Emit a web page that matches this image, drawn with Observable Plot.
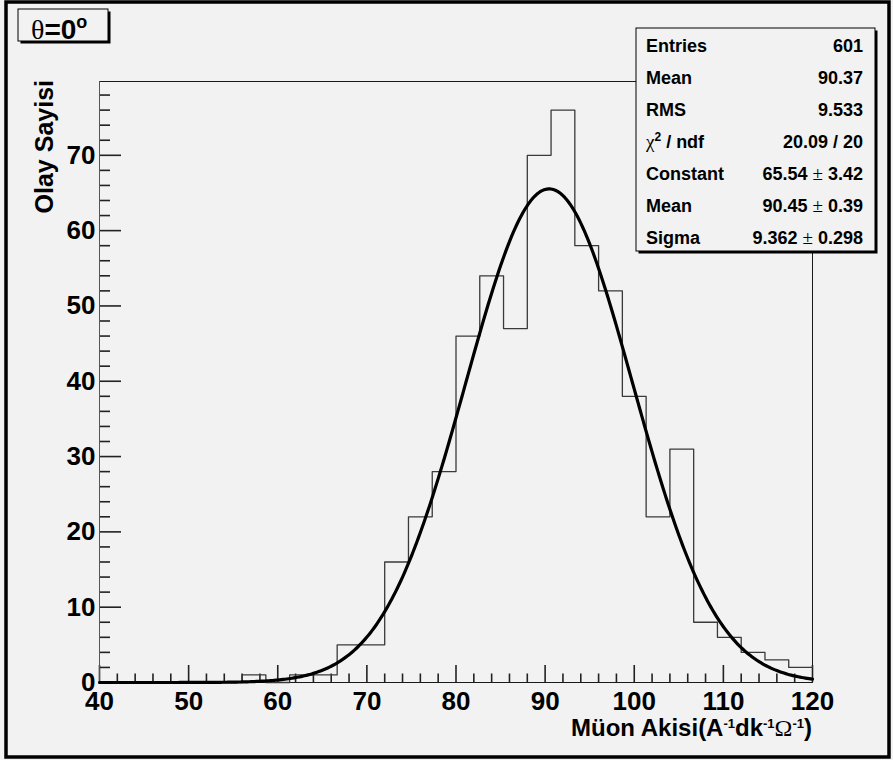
<!DOCTYPE html>
<html>
<head>
<meta charset="utf-8">
<script src="https://cdn.jsdelivr.net/npm/d3@7"></script>
<script src="https://cdn.jsdelivr.net/npm/@observablehq/plot@0.6"></script>
<style>
  html, body { margin: 0; padding: 0; background: #f2f2f2; }
  #chart { width: 893px; height: 760px; }
</style>
</head>
<body>
<div id="chart"></div>
<script>
// Muon flux histogram at θ = 0°: 30 equal-width bins from 40 to 120
const binLow = 40;
const binHigh = 120;
const counts = [0, 0, 0, 0, 0, 0, 1, 0, 1, 1,
                5, 5, 16, 22, 28, 46, 54, 47, 70, 76,
                58, 52, 38, 22, 31, 8, 6, 4, 3, 2];

// Statistics box values
const entries = 601;
const histMean = 90.37;
const histRms = 9.533;
const chi2 = 20.09;
const ndf = 20;

// Gaussian fit parameters and their errors
const fitConstant = 65.54, fitConstantErr = 3.42;
const fitMean = 90.45, fitMeanErr = 0.39;
const fitSigma = 9.362, fitSigmaErr = 0.298;

// Axis ticks
const xTicks = [40, 50, 60, 70, 80, 90, 100, 110, 120];
const yTicks = [0, 10, 20, 30, 40, 50, 60, 70];
const xMinorStep = 2;
const yMinorStep = 2;
const yMax = 79.8;

const W = 893, H = 760;
const mL = 99, mR = 81, mT = 81, mB = 78;
const plotW = W - mL - mR, plotH = H - mT - mB;

// Histogram outline as steps through each bin's lower edge
const nBins = counts.length;
const binW = (binHigh - binLow) / nBins;
const steps = counts.map((c, i) => ({x: binLow + i * binW, y: c}));
steps.push({x: binHigh, y: counts[nBins - 1]});

// Fitted Gaussian evaluated across the axis range
const fitCurve = d3.range(binLow, binHigh + 1e-9, 0.2).map(x => ({
  x, y: fitConstant * Math.exp(-0.5 * ((x - fitMean) / fitSigma) ** 2)
}));

const xMinor = d3.range(binLow, binHigh + 1e-9, xMinorStep).filter(v => v % 10 !== 0);
const yMinor = d3.range(0, yMax, yMinorStep).filter(v => v % 10 !== 0);

const tickStyle = {stroke: "#222", strokeWidth: 1.6};

const chart = Plot.plot({
  width: W,
  height: H,
  marginLeft: mL,
  marginRight: mR,
  marginTop: mT,
  marginBottom: mB,
  style: {
    background: "#f2f2f2",
    fontFamily: "'Liberation Sans', Arial, sans-serif",
    fontWeight: "bold",
    fontSize: "26px"
  },
  x: {domain: [binLow, binHigh]},
  y: {domain: [0, yMax]},
  marks: [
    Plot.frame({stroke: "#1a1a1a"}),
    // inward-pointing tick marks along the left and bottom axes
    Plot.ruleY(yTicks, {y: d => d, insetRight: plotW - 22, ...tickStyle}),
    Plot.ruleY(yMinor, {y: d => d, insetRight: plotW - 11, ...tickStyle}),
    Plot.ruleX(xTicks, {x: d => d, insetTop: plotH - 17, ...tickStyle}),
    Plot.ruleX(xMinor, {x: d => d, insetTop: plotH - 8.5, ...tickStyle}),
    Plot.ruleX([binLow], {stroke: "#555"}),
    Plot.line(steps, {x: "x", y: "y", curve: "step-after", stroke: "#3a3a3a", strokeWidth: 1.3}),
    Plot.line(fitCurve, {x: "x", y: "y", stroke: "#000", strokeWidth: 3.2}),
    Plot.axisX({ticks: xTicks, tickSize: 0, tickPadding: 9.5, label: null, tickFormat: d => String(d), fill: "#000"}),
    Plot.axisY({ticks: yTicks, tickSize: 0, tickPadding: 4, label: null, tickFormat: d => String(d), fill: "#000"})
  ]
});
document.getElementById("chart").append(chart);

const svg = d3.select(chart);
const sans = "'Liberation Sans', Arial, sans-serif";
const serif = "'Liberation Serif', 'Times New Roman', serif";

// Canvas border
svg.append("rect")
  .attr("x", 6).attr("y", 2).attr("width", 883).attr("height", 755)
  .attr("fill", "none").attr("stroke", "#000").attr("stroke-width", 3.5);

// Box with a drop shadow
function shadowBox(x, y, w, h) {
  svg.append("rect").attr("x", x + 2.5).attr("y", y + 2.5).attr("width", w).attr("height", h)
    .attr("fill", "#000");
  svg.append("rect").attr("x", x).attr("y", y).attr("width", w).attr("height", h)
    .attr("fill", "#f2f2f2").attr("stroke", "#000").attr("stroke-width", 1);
}

// Title
shadowBox(18, 9, 90, 32);
const title = svg.append("text").attr("x", 31).attr("y", 38.5).attr("text-anchor", "start")
  .attr("font-family", sans).attr("font-size", 28).attr("fill", "#000");
title.append("tspan").attr("font-family", serif).attr("font-weight", "normal").text("θ");
title.append("tspan").attr("font-weight", "bold").text("=0");
title.append("tspan").attr("font-weight", "bold").attr("font-size", 18).attr("dy", -11).text("o");

// Statistics box
shadowBox(636, 28, 239, 223);
const fmt = (v, d) => v.toFixed(d);
const statRows = [
  {name: [["Entries"]], value: [[String(entries)]]},
  {name: [["Mean"]], value: [[fmt(histMean, 2)]]},
  {name: [["RMS"]], value: [[fmt(histRms, 3)]]},
  {name: [["χ", "greek"], ["2", "sup"], [" / ndf", "base"]], value: [[`${fmt(chi2, 2)} / ${ndf}`]]},
  {name: [["Constant"]], value: [[fmt(fitConstant, 2) + " "], ["±", "greek"], [" " + fmt(fitConstantErr, 2)]]},
  {name: [["Mean"]], value: [[fmt(fitMean, 2) + " "], ["±", "greek"], [" " + fmt(fitMeanErr, 2)]]},
  {name: [["Sigma"]], value: [[fmt(fitSigma, 3) + " "], ["±", "greek"], [" " + fmt(fitSigmaErr, 3)]]}
];

function addParts(textSel, parts) {
  parts.forEach(([str, kind]) => {
    const t = textSel.append("tspan").text(str);
    if (kind === "greek") t.attr("font-family", serif).attr("font-weight", "normal").attr("font-size", 19);
    if (kind === "sup") t.attr("font-size", 12).attr("dy", -7);
    if (kind === "base") t.attr("dy", 7);
  });
}

statRows.forEach((row, i) => {
  const yb = 51.5 + i * 32.1;
  const left = svg.append("text").attr("x", 646).attr("y", yb).attr("text-anchor", "start")
    .attr("font-family", sans).attr("font-weight", "bold").attr("font-size", 18).attr("fill", "#000");
  addParts(left, row.name);
  const right = svg.append("text").attr("x", 863).attr("y", yb).attr("text-anchor", "end")
    .attr("font-family", sans).attr("font-weight", "bold").attr("font-size", 18).attr("fill", "#000");
  addParts(right, row.value);
});

// Axis titles
svg.append("text")
  .attr("transform", "translate(53,80) rotate(-90)")
  .attr("text-anchor", "end")
  .attr("font-family", sans).attr("font-weight", "bold").attr("font-size", 25).attr("fill", "#000")
  .text("Olay Sayisi");

const xTitle = svg.append("text").attr("x", 812).attr("y", 736).attr("text-anchor", "end")
  .attr("font-family", sans).attr("font-weight", "bold").attr("font-size", 24).attr("fill", "#000");
xTitle.append("tspan").text("Müon Akisi(A");
xTitle.append("tspan").attr("font-size", 13).attr("dy", -8).text("-1");
xTitle.append("tspan").attr("dy", 8).text("dk");
xTitle.append("tspan").attr("font-size", 13).attr("dy", -8).text("-1");
xTitle.append("tspan").attr("dy", 8).attr("font-family", serif).attr("font-weight", "normal").text("Ω");
xTitle.append("tspan").attr("font-size", 13).attr("dy", -8).text("-1");
xTitle.append("tspan").attr("dy", 8).text(")");
</script>
</body>
</html>
